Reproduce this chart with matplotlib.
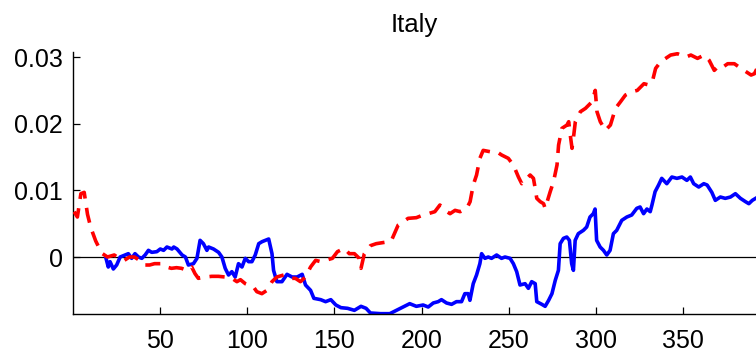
import matplotlib
matplotlib.use("Agg")
import matplotlib.pyplot as plt

# Blue solid series
blue_x = [19.2, 20.5, 21.5, 23.4, 25.3, 27.3, 30.1, 32, 33.9, 35.8, 37.8, 39.7, 41.6, 43.5, 45.4, 48.3,
          50.3, 52.2, 54.1, 57, 58, 59.9, 62.8, 64.7, 66.4, 69.3, 71.3, 73.1, 75, 77, 78, 80.8, 83.7,
          85.6, 87.5, 89.4, 91.3, 93.2, 95.1, 97.1, 99, 100.9, 102.8, 104.7, 106.7, 108.6, 110.5, 112.4,
          114.3, 115.2, 117.1, 120, 122.9, 125.8, 128.7, 131.6, 133.5, 136.4, 138.3, 142.2, 145, 148,
          150.9, 153.8, 157.6, 161.5, 165.3, 168.2, 170.7, 176.5, 181.8, 185.6, 189.4, 193.2, 197,
          200.9, 203.8, 206.7, 209.5, 211.4, 214.3, 217.2, 220, 222.9, 224.8, 226.7, 227.7, 229.6,
          231.5, 233.4, 234.4, 236.3, 238.2, 240.1, 243, 245.8, 247.8, 250.7, 252.6, 254.5, 256.4,
          259.3, 261.2, 263.1, 265.1, 266, 268.9, 270.8, 272.8, 274.7, 276.6, 278.4, 279.4, 281.3,
          283.2, 284.7, 286, 287, 288, 289.8, 292.7, 294.6, 296.5, 298.4, 299.4, 300.3, 302.3, 304.2,
          306.1, 308, 309.9, 311.8, 314.7, 317.6, 320.4, 323.3, 325.2, 327.2, 329.1, 331, 332, 333.8,
          335.8, 337.6, 340.5, 343.4, 346.3, 349.2, 352, 354, 355.9, 358.8, 361.7, 363.6, 366.3,
          368.3, 371.2, 374, 377, 379.8, 382.7, 385.6, 387.5, 389.5, 391.4]
blue_y = [-0.0002, -0.0015, -0.0007, -0.0018, -0.0012, 0.0, 0.0003, 0.0005, -0.0002, 0.0005, 0.0,
          -0.0002, 0.0003, 0.001, 0.0007, 0.0008, 0.0012, 0.001, 0.0015, 0.0012, 0.0015, 0.0012,
          0.0003, 0.0, -0.0012, -0.001, -0.0002, 0.0025, 0.002, 0.001, 0.0015, 0.0012, 0.0007, 0.0,
          -0.0017, -0.0027, -0.0022, -0.003, -0.001, -0.0015, -0.0002, -0.0007, -0.0007, 0.0003,
          0.002, 0.0023, 0.0025, 0.0027, 0.0005, -0.002, -0.0037, -0.0037, -0.0026, -0.003, -0.003,
          -0.0026, -0.0042, -0.005, -0.0062, -0.0064, -0.0067, -0.0064, -0.0072, -0.0076, -0.0077,
          -0.008, -0.0074, -0.0077, -0.0084, -0.0085, -0.0085, -0.008, -0.0075, -0.007, -0.0074,
          -0.0072, -0.0075, -0.0069, -0.0067, -0.0064, -0.0069, -0.0071, -0.0067, -0.0067, -0.0055,
          -0.0055, -0.0065, -0.004, -0.0027, -0.001, 0.0005, -0.0002, 0.0, -0.0002, 0.0003, -0.0002,
          0.0, -0.0002, -0.001, -0.0022, -0.0042, -0.004, -0.0047, -0.0037, -0.004, -0.0067, -0.0071,
          -0.0074, -0.0065, -0.0055, -0.0035, -0.002, 0.002, 0.0028, 0.003, 0.0025, -0.001, -0.002,
          0.0025, 0.0035, 0.004, 0.0045, 0.006, 0.0065, 0.0072, 0.0025, 0.0015, 0.001, 0.0003, 0.001,
          0.0035, 0.004, 0.0055, 0.006, 0.0063, 0.0073, 0.0075, 0.0065, 0.0072, 0.0068, 0.0078,
          0.0098, 0.0108, 0.0118, 0.011, 0.012, 0.0118, 0.012, 0.0115, 0.012, 0.011, 0.0105, 0.011,
          0.0108, 0.0097, 0.0085, 0.009, 0.0088, 0.009, 0.0095, 0.0088, 0.0083, 0.008, 0.0085, 0.0088]

# Red dashed series
red_x = [0.9, 2.8, 4.8, 6.7, 8.6, 10.5, 13.3, 15.2, 17.2, 20, 23.9, 26.8, 29.7, 32.6, 35.5, 38.4,
         41.3, 44.2, 47, 50.9, 53.8, 56.7, 59.6, 62.5, 65.4, 68.3, 70.2, 72.1, 76, 79.8, 83.6, 87.5,
         91.3, 94.2, 96.2, 99, 103.7, 105.6, 108.5, 111.4, 114.3, 117.1, 121, 124.8, 127.7, 130.6,
         133.5, 136.4, 139.3, 142.2, 145, 148.9, 151.8, 155.7, 158.6, 161.5, 164.3, 165.3, 167.2,
         170.7, 174, 178.8, 182.6, 186.6, 189.4, 192.3, 197, 200.9, 203.8, 207.6, 210.5, 213.4,
         216.3, 219.2, 222.1, 225.9, 227.8, 229.6, 231.5, 233.4, 235.3, 239.2, 243, 245.9, 249.7,
         252.6, 255.5, 257.4, 259.3, 262.2, 264.1, 265.1, 266, 268, 269.9, 270.8, 273.7, 275.6,
         277.6, 278.5, 280.4, 283.3, 284.3, 285.2, 286.2, 287.2, 288.1, 291, 293.9, 295.8, 297.7,
         299.5, 300.5, 302.4, 305.3, 308.2, 311.1, 314, 316.8, 320.7, 323.6, 327.4, 330.3, 332.2,
         334.1, 337, 339.9, 342.7, 346.6, 351.4, 354.3, 358.1, 361.9, 364.8, 367.7, 369.6, 371.6,
         375.4, 379.2, 383, 385.9, 388.8, 390.7, 392.6]
red_y = [0.0068, 0.006, 0.0095, 0.0097, 0.0064, 0.0044, 0.0024, 0.0014, 0.0005, 0.0, 0.0003,
         -0.0002, -0.0005, 0.0, 0.0, -0.0005, -0.0012, -0.0012, -0.001, -0.001, -0.0015, -0.0017,
         -0.0016, -0.0017, -0.002, -0.0015, -0.0025, -0.0032, -0.003, -0.0029, -0.0029, -0.003,
         -0.0032, -0.0037, -0.0034, -0.004, -0.0045, -0.0052, -0.0055, -0.005, -0.0037, -0.003,
         -0.0027, -0.0032, -0.0032, -0.0037, -0.003, -0.0015, -0.0005, -0.0007, -0.0005, -0.0002,
         0.0008, 0.0013, 0.0005, 0.0005, -0.0002, -0.0017, 0.0005, 0.0017, 0.002, 0.0022, 0.0024,
         0.0048, 0.0053, 0.0058, 0.0059, 0.0063, 0.0065, 0.0068, 0.0078, 0.007, 0.0065, 0.007,
         0.0068, 0.0073, 0.0083, 0.0108, 0.0123, 0.0148, 0.016, 0.0158, 0.0158, 0.0153, 0.0148,
         0.0138, 0.012, 0.011, 0.0115, 0.0123, 0.0118, 0.0103, 0.0088, 0.0083, 0.008, 0.0073,
         0.0098, 0.0113, 0.0138, 0.0168, 0.0193, 0.0198, 0.0203, 0.0183, 0.0163, 0.0183, 0.0203,
         0.0218, 0.0223, 0.0228, 0.0233, 0.025, 0.0218, 0.0203, 0.019, 0.0198, 0.0223, 0.0233,
         0.0243, 0.0248, 0.025, 0.026, 0.0258, 0.0263, 0.0283, 0.0293, 0.0298, 0.0303, 0.0305,
         0.03, 0.0303, 0.0298, 0.0303, 0.0295, 0.028, 0.0285, 0.0283, 0.029, 0.029, 0.0283, 0.0278,
         0.0273, 0.0275, 0.0285]

title_text = "Italy"
x_ticks = [50, 100, 150, 200, 250, 300, 350]
y_ticks = [0, 0.01, 0.02, 0.03]
y_tick_labels = ["0", "0.01", "0.02", "0.03"]

plt.rcParams['font.family'] = ['Liberation Sans', 'DejaVu Sans']

fig = plt.figure(figsize=(7.56, 3.53), dpi=100)
ax = fig.add_axes([0.0959, 0.1105, 0.905, 0.743])

ax.axhline(0, color='black', lw=0.9, zorder=1)
ax.plot(red_x, red_y, color=(1, 0, 0), lw=2.6, linestyle=(0, (4.2, 2.6)), zorder=3)
ax.plot(blue_x, blue_y, color=(0, 0, 1), lw=2.6, zorder=2)

ax.set_xlim(0, 392)
ax.set_ylim(-0.00855, 0.0308)
ax.set_xticks(x_ticks)
ax.set_xticklabels([str(t) for t in x_ticks])
ax.set_yticks(y_ticks)
ax.set_yticklabels(y_tick_labels)

for s in ['top', 'right']:
    ax.spines[s].set_visible(False)
for s in ['left', 'bottom']:
    ax.spines[s].set_linewidth(1.0)

ax.tick_params(axis='both', direction='in', length=5, width=0.9, labelsize=18)
ax.tick_params(axis='x', pad=11)
ax.tick_params(axis='y', pad=7)
ax.set_title(title_text, fontsize=18.5, pad=14)

fig.savefig("out.png", dpi=100)
